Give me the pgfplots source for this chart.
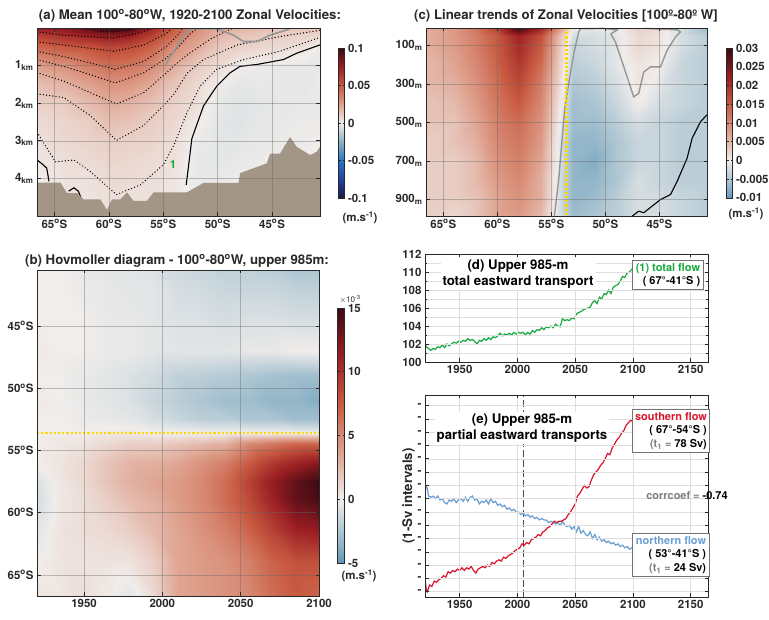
\documentclass[border=0pt]{standalone}
\usepackage{pgfplots}
\pgfplotsset{compat=1.18}
\usepackage{fontspec}
\setmainfont{TeX Gyre Heros}
\definecolor{axcol}{RGB}{40,40,40}
\definecolor{bathy}{RGB}{164,150,134}
\definecolor{gline}{RGB}{150,150,150}
\definecolor{ygold}{RGB}{255,215,0}
\definecolor{cgreen}{RGB}{20,170,60}
\definecolor{cred}{RGB}{215,20,45}
\definecolor{cblue}{RGB}{105,158,210}
\definecolor{tgray}{RGB}{125,125,125}
\newcommand{\tk}{\bfseries\fontsize{11.5}{13}\selectfont}
\newcommand{\ttl}{\bfseries\fontsize{13.3}{15.5}\selectfont}
\newcommand{\lgf}{\bfseries\fontsize{11}{13.5}\selectfont}
\newcommand{\dg}{\textsuperscript{o}}
\pgfplotsset{
  colormap={balance}{rgb255(0cm)=(24,28,67) rgb255(1cm)=(35,65,160) rgb255(2cm)=(40,118,198) rgb255(3cm)=(140,178,198) rgb255(4cm)=(240,237,235) rgb255(5cm)=(222,160,140) rgb255(6cm)=(200,90,65) rgb255(7cm)=(155,30,35) rgb255(8cm)=(60,9,18)},
  colormap={balsub}{rgb255(0cm)=(92,150,182) rgb255(1cm)=(140,178,198) rgb255(4cm)=(240,237,235) rgb255(7cm)=(222,160,140) rgb255(10cm)=(200,90,65) rgb255(13cm)=(155,30,35) rgb255(16cm)=(60,9,18)},
  mat/.style={scale only axis, axis line style={axcol,line width=0.8bp}, every tick/.style={axcol,line width=0.6bp}, major tick length=3.5bp, minor tick length=2bp, tick align=inside, ticklabel style={font=\tk, text=axcol}, axis on top},
  fld/.style={mat, grid=major, grid style={black!60, line width=0.5bp, opacity=0.4}},
  cbar/.style={scale only axis, scaled y ticks=false, axis line style={axcol,line width=0.8bp}, every tick/.style={axcol,line width=0.5bp}, major tick length=2bp, tick align=inside, yticklabel style={font=\tk, text=axcol}},
  dots/.style={black, line width=1.4bp, dash pattern=on 0bp off 3.2bp, line cap=round},
}
\begin{document}
\begin{tikzpicture}
\useasboundingbox (0,0) rectangle (769bp,620bp);
% ---------------- (a)
\begin{axis}[fld, at={(37bp,404bp)}, anchor=south west, width=283bp, height=188bp,
  xmin=-66.6, xmax=-40.6, ymin=0, ymax=5, y dir=reverse,
  xtick={-65,-60,-55,-50,-45}, xticklabels={65\dg S,60\dg S,55\dg S,50\dg S,45\dg S},
  ytick={1,2,3,4}, yticklabels={1\textsubscript{km},2\textsubscript{km},3\textsubscript{km},4\textsubscript{km}},
  colormap name=balance, point meta min=-0.1, point meta max=0.1,
  colorbar, colorbar style={cbar, at={(parent axis.north east)}, anchor=north west, xshift=10bp, yshift=-20bp, width=6bp, height=150bp,
    ytick={-0.1,-0.05,0,0.05,0.1}, yticklabels={-0.1,-0.05,0,0.05,0.1}}]
\addplot[surf, shader=interp, mesh/cols=14, point meta=explicit] table[x=x,y=y,meta=c,row sep=\\]{
x y c\\
-66.6 0 0.075\\ -64 0 0.080\\ -62 0 0.090\\ -60 0 0.100\\ -58 0 0.098\\ -56 0 0.072\\ -54 0 0.050\\ -52 0 0.033\\ -50 0 0.022\\ -48 0 0.018\\ -46 0 0.015\\ -44 0 0.013\\ -42 0 0.012\\ -40.6 0 0.011\\
-66.6 0.25 0.058\\ -64 0.25 0.065\\ -62 0.25 0.070\\ -60 0.25 0.076\\ -58 0.25 0.072\\ -56 0.25 0.058\\ -54 0.25 0.042\\ -52 0.25 0.027\\ -50 0.25 0.017\\ -48 0.25 0.013\\ -46 0.25 0.011\\ -44 0.25 0.009\\ -42 0.25 0.008\\ -40.6 0.25 0.005\\
-66.6 0.5 0.045\\ -64 0.5 0.050\\ -62 0.5 0.052\\ -60 0.5 0.058\\ -58 0.5 0.055\\ -56 0.5 0.047\\ -54 0.5 0.031\\ -52 0.5 0.022\\ -50 0.5 0.012\\ -48 0.5 0.009\\ -46 0.5 0.007\\ -44 0.5 0.006\\ -42 0.5 0.003\\ -40.6 0.5 -0.001\\
-66.6 1 0.025\\ -64 1 0.030\\ -62 1 0.037\\ -60 1 0.042\\ -58 1 0.040\\ -56 1 0.032\\ -54 1 0.021\\ -52 1 0.011\\ -50 1 0.006\\ -48 1 0.000\\ -46 1 -0.001\\ -44 1 -0.002\\ -42 1 -0.002\\ -40.6 1 -0.002\\
-66.6 1.5 0.015\\ -64 1.5 0.019\\ -62 1.5 0.024\\ -60 1.5 0.030\\ -58 1.5 0.028\\ -56 1.5 0.021\\ -54 1.5 0.013\\ -52 1.5 0.007\\ -50 1.5 0.000\\ -48 1.5 -0.003\\ -46 1.5 -0.002\\ -44 1.5 -0.002\\ -42 1.5 -0.003\\ -40.6 1.5 -0.001\\
-66.6 2 0.009\\ -64 2 0.011\\ -62 2 0.016\\ -60 2 0.021\\ -58 2 0.019\\ -56 2 0.014\\ -54 2 0.009\\ -52 2 0.005\\ -50 2 -0.002\\ -48 2 -0.004\\ -46 2 -0.003\\ -44 2 -0.002\\ -42 2 -0.002\\ -40.6 2 -0.002\\
-66.6 2.5 0.006\\ -64 2.5 0.008\\ -62 2.5 0.010\\ -60 2.5 0.015\\ -58 2.5 0.013\\ -56 2.5 0.010\\ -54 2.5 0.007\\ -52 2.5 0.001\\ -50 2.5 -0.003\\ -48 2.5 -0.004\\ -46 2.5 -0.002\\ -44 2.5 -0.002\\ -42 2.5 -0.001\\ -40.6 2.5 -0.001\\
-66.6 3 0.004\\ -64 3 0.007\\ -62 3 0.008\\ -60 3 0.010\\ -58 3 0.009\\ -56 3 0.008\\ -54 3 0.005\\ -52 3 -0.001\\ -50 3 -0.003\\ -48 3 -0.003\\ -46 3 -0.002\\ -44 3 -0.001\\ -42 3 -0.001\\ -40.6 3 0.000\\
-66.6 3.5 0.002\\ -64 3.5 0.005\\ -62 3.5 0.006\\ -60 3.5 0.008\\ -58 3.5 0.007\\ -56 3.5 0.006\\ -54 3.5 0.004\\ -52 3.5 -0.002\\ -50 3.5 -0.003\\ -48 3.5 -0.002\\ -46 3.5 -0.001\\ -44 3.5 -0.001\\ -42 3.5 0.000\\ -40.6 3.5 0.000\\
-66.6 4 0.000\\ -64 4 0.004\\ -62 4 0.004\\ -60 4 0.006\\ -58 4 0.006\\ -56 4 0.005\\ -54 4 0.003\\ -52 4 -0.002\\ -50 4 -0.002\\ -48 4 -0.001\\ -46 4 -0.001\\ -44 4 0.000\\ -42 4 0.000\\ -40.6 4 0.000\\
-66.6 4.5 -0.001\\ -64 4.5 0.003\\ -62 4.5 0.003\\ -60 4.5 0.005\\ -58 4.5 0.004\\ -56 4.5 0.004\\ -54 4.5 0.002\\ -52 4.5 -0.001\\ -50 4.5 -0.001\\ -48 4.5 0.000\\ -46 4.5 0.000\\ -44 4.5 0.000\\ -42 4.5 0.000\\ -40.6 4.5 0.000\\
-66.6 5 0.000\\ -64 5 0.002\\ -62 5 0.002\\ -60 5 0.004\\ -58 5 0.003\\ -56 5 0.003\\ -54 5 0.001\\ -52 5 0.000\\ -50 5 0.000\\ -48 5 0.000\\ -46 5 0.000\\ -44 5 0.000\\ -42 5 0.000\\ -40.6 5 0.000\\
};
% dotted contours
\addplot[dots] coordinates {(-66.6,2.77) (-64.9,3.56) (-63.2,3.51) (-61.7,3.82) (-59.3,4.43) (-57.1,4.17) (-55.0,3.64) (-54.0,3.1) (-52.8,2.24) (-51.6,1.54) (-50.1,1.1) (-47.6,0.84) (-44.3,0.62) (-40.6,0.25)};
\addplot[dots] coordinates {(-66.6,1.75) (-64.15,1.85) (-61.7,2.33) (-59.3,2.99) (-56.8,2.59) (-54.7,1.98) (-54.0,1.75) (-52.8,1.2) (-51.3,0.84) (-48.2,0.45) (-44.3,0.23) (-40.6,0.06)};
\addplot[dots] coordinates {(-66.6,1.19) (-64.15,1.41) (-61.7,1.72) (-59.3,2.02) (-56.8,1.72) (-54.7,1.19) (-53.8,0.95) (-52.5,0.65) (-50.7,0.3) (-49.2,0.08) (-48.5,0.0)};
\addplot[dots] coordinates {(-66.6,0.84) (-64.15,1.02) (-61.7,1.24) (-59.4,1.46) (-56.8,1.19) (-54.7,0.8) (-53.6,0.5) (-52.5,0.14) (-51.8,0.0)};
\addplot[dots] coordinates {(-66.6,0.62) (-64.15,0.76) (-61.7,0.93) (-59.4,1.1) (-56.8,0.89) (-54.7,0.49) (-53.7,0.2) (-53.2,0.0)};
\addplot[dots] coordinates {(-66.6,0.37) (-64.15,0.45) (-61.7,0.54) (-59.5,0.62) (-56.8,0.45) (-54.7,0.14) (-54.2,0.0)};
\addplot[dots] coordinates {(-66.6,0.1) (-64.15,0.19) (-61.7,0.23) (-59.6,0.27) (-57.3,0.14) (-55.9,0.0)};
\addplot[dots] coordinates {(-62.5,0) (-61,0.08) (-59.6,0.1) (-58.5,0.06) (-57.5,0)};
% zero contours
\addplot[black, line width=1.1bp] coordinates {(-52.89,4.17) (-52.37,2.94) (-51.3,2.07) (-50.07,1.54) (-48.85,1.19) (-47.94,1.02) (-46.4,0.97) (-43.96,0.84) (-42.74,0.67) (-40.6,0.45)};
\addplot[black, line width=1.1bp] coordinates {(-66.6,3.51) (-66.1,3.62) (-65.7,3.73) (-65.5,4.08)};
\addplot[black, line width=1.1bp] coordinates {(-63.7,4.34) (-63.2,4.25) (-62.8,4.34) (-62.5,4.56)};
\addplot[gline, line width=1.6bp] coordinates {(-54.75,0.97) (-54.36,0.76) (-52.83,0.1) (-52.3,0.02) (-50.07,0.02) (-48.55,0.19) (-47.63,0.36) (-46.4,0.36) (-45.2,0.19) (-43.96,0.08) (-43.4,0.02)};
% bathymetry
\addplot[fill=bathy, draw=none] coordinates {(-66.6,4.11) (-64.45,4.11) (-63.84,4.39) (-62.92,4.39) (-62.31,4.56) (-60.78,4.56) (-60.17,4.84) (-59.71,4.56) (-58.95,4.56) (-58.33,4.37) (-57.73,4.6) (-56.5,4.6) (-55.89,4.37) (-52.83,4.37) (-51.3,4.12) (-48.09,4.12) (-47.94,3.86) (-45.49,3.6) (-45.18,3.34) (-44.27,3.34) (-43.35,2.9) (-42.74,3.16) (-41.5,3.38) (-40.9,3.29) (-40.6,3.16) (-40.6,5) (-66.6,5)} -- cycle;
\node[text=cgreen, font=\tk] at (axis cs:-54.1,3.64) {1};
\end{axis}
% ---------------- (c)
\begin{axis}[fld, at={(426bp,404bp)}, anchor=south west, width=281bp, height=188bp,
  xmin=-66.6, xmax=-40.6, ymin=10, ymax=985, y dir=reverse,
  xtick={-65,-60,-55,-50,-45}, xticklabels={65\dg S,60\dg S,55\dg S,50\dg S,45\dg S},
  ytick={100,300,500,700,900}, yticklabels={100\textsubscript{m},300\textsubscript{m},500\textsubscript{m},700\textsubscript{m},900\textsubscript{m}},
  colormap name=balsub, point meta min=-0.01, point meta max=0.03,
  colorbar, colorbar style={cbar, at={(parent axis.north east)}, anchor=north west, xshift=11bp, yshift=-20bp, width=6bp, height=150bp,
    ytick={-0.01,-0.005,0,0.005,0.01,0.015,0.02,0.025,0.03}, yticklabels={\raisebox{2bp}{-0.01},-0.005,0,0.005,0.01,0.015,0.02,0.025,0.03}}]
\addplot[surf, shader=interp, mesh/cols=14, point meta=explicit] table[x=x,y=y,meta=c,row sep=\\]{
x y c\\
-66.6 10 0.006\\ -64 10 0.008\\ -62 10 0.012\\ -60 10 0.018\\ -58 10 0.030\\ -56 10 0.022\\ -54.5 10 0.010\\ -53 10 0.000\\ -51 10 -0.001\\ -49 10 0.000\\ -47 10 0.003\\ -45 10 0.002\\ -43 10 -0.002\\ -40.6 10 -0.006\\
-66.6 50 0.006\\ -64 50 0.008\\ -62 50 0.011\\ -60 50 0.015\\ -58 50 0.022\\ -56 50 0.016\\ -54.5 50 0.006\\ -53 50 -0.002\\ -51 50 -0.002\\ -49 50 -0.001\\ -47 50 0.002\\ -45 50 0.001\\ -43 50 -0.002\\ -40.6 50 -0.004\\
-66.6 100 0.006\\ -64 100 0.008\\ -62 100 0.011\\ -60 100 0.015\\ -58 100 0.021\\ -56 100 0.015\\ -54.5 100 0.005\\ -53 100 -0.003\\ -51 100 -0.002\\ -49 100 -0.001\\ -47 100 0.002\\ -45 100 0.001\\ -43 100 -0.002\\ -40.6 100 -0.004\\
-66.6 200 0.005\\ -64 200 0.007\\ -62 200 0.010\\ -60 200 0.014\\ -58 200 0.019\\ -56 200 0.013\\ -54.5 200 0.004\\ -53 200 -0.004\\ -51 200 -0.003\\ -49 200 -0.001\\ -47 200 0.001\\ -45 200 0.000\\ -43 200 -0.003\\ -40.6 200 -0.004\\
-66.6 300 0.005\\ -64 300 0.006\\ -62 300 0.009\\ -60 300 0.013\\ -58 300 0.017\\ -56 300 0.011\\ -54.5 300 0.003\\ -53 300 -0.005\\ -51 300 -0.004\\ -49 300 -0.002\\ -47 300 0.001\\ -45 300 -0.001\\ -43 300 -0.003\\ -40.6 300 -0.004\\
-66.6 400 0.004\\ -64 400 0.005\\ -62 400 0.008\\ -60 400 0.012\\ -58 400 0.015\\ -56 400 0.010\\ -54.5 400 0.002\\ -53 400 -0.006\\ -51 400 -0.005\\ -49 400 -0.003\\ -47 400 0.000\\ -45 400 -0.002\\ -43 400 -0.003\\ -40.6 400 -0.004\\
-66.6 500 0.004\\ -64 500 0.004\\ -62 500 0.007\\ -60 500 0.011\\ -58 500 0.013\\ -56 500 0.009\\ -54.5 500 0.001\\ -53 500 -0.006\\ -51 500 -0.006\\ -49 500 -0.004\\ -47 500 -0.002\\ -45 500 -0.003\\ -43 500 -0.004\\ -40.6 500 -0.004\\
-66.6 600 0.003\\ -64 600 0.004\\ -62 600 0.006\\ -60 600 0.010\\ -58 600 0.012\\ -56 600 0.008\\ -54.5 600 0.000\\ -53 600 -0.007\\ -51 600 -0.007\\ -49 600 -0.005\\ -47 600 -0.003\\ -45 600 -0.003\\ -43 600 -0.004\\ -40.6 600 -0.004\\
-66.6 700 0.003\\ -64 700 0.003\\ -62 700 0.005\\ -60 700 0.009\\ -58 700 0.011\\ -56 700 0.007\\ -54.5 700 0.000\\ -53 700 -0.007\\ -51 700 -0.008\\ -49 700 -0.005\\ -47 700 -0.003\\ -45 700 -0.003\\ -43 700 -0.004\\ -40.6 700 -0.004\\
-66.6 800 0.003\\ -64 800 0.003\\ -62 800 0.005\\ -60 800 0.008\\ -58 800 0.010\\ -56 800 0.006\\ -54.5 800 -0.001\\ -53 800 -0.007\\ -51 800 -0.007\\ -49 800 -0.005\\ -47 800 -0.002\\ -45 800 -0.003\\ -43 800 -0.004\\ -40.6 800 -0.004\\
-66.6 900 0.003\\ -64 900 0.003\\ -62 900 0.004\\ -60 900 0.007\\ -58 900 0.009\\ -56 900 0.006\\ -54.5 900 -0.001\\ -53 900 -0.007\\ -51 900 -0.006\\ -49 900 -0.004\\ -47 900 -0.002\\ -45 900 -0.002\\ -43 900 -0.003\\ -40.6 900 -0.004\\
-66.6 985 0.003\\ -64 985 0.002\\ -62 985 0.004\\ -60 985 0.007\\ -58 985 0.008\\ -56 985 0.005\\ -54.5 985 -0.001\\ -53 985 -0.006\\ -51 985 -0.005\\ -49 985 -0.004\\ -47 985 -0.002\\ -45 985 -0.002\\ -43 985 -0.003\\ -40.6 985 -0.004\\
};
\addplot[gline, line width=1.4bp] coordinates {(-54.72,985) (-54.32,797) (-54.01,590) (-53.77,435) (-53.4,298) (-52.93,143) (-52.47,31) (-52.3,14) (-50.2,12) (-48.9,20) (-49.5,40) (-49.07,83) (-48.45,186) (-47.84,289) (-47.38,367) (-46.92,349) (-46.45,238) (-45.83,212) (-44.91,212) (-44.29,126) (-43.52,57) (-43.06,31) (-43.3,20) (-46.3,12)};
\addplot[black, line width=1.1bp] coordinates {(-47.53,986) (-46.92,960) (-46.45,968) (-44.91,900) (-44.6,891) (-43.98,874) (-43.36,805) (-42.44,685) (-41.97,581) (-41.2,496) (-40.6,460)};
\addplot[ygold, line width=2.2bp, dash pattern=on 2.2bp off 2bp] coordinates {(-53.6,10) (-53.6,985)};
\end{axis}
% ---------------- (b)
\begin{axis}[fld, at={(37bp,24bp)}, anchor=south west, width=282bp, height=326bp,
  xmin=1920, xmax=2100, ymin=-66.7, ymax=-40.5,
  xtick={1950,2000,2050,2100}, xticklabels={1950,2000,2050,2100},
  ytick={-65,-60,-55,-50,-45}, yticklabels={65\dg S,60\dg S,55\dg S,50\dg S,45\dg S},
  colormap name=balsub, point meta min=-5, point meta max=15,
  colorbar, colorbar style={cbar, at={(parent axis.north east)}, anchor=north west, xshift=10bp, yshift=-38bp, width=7bp, height=255bp,
    ytick={-5,0,5,10,15}, yticklabels={-5,0,5,10,15}}]
\addplot[surf, shader=interp, mesh/cols=13, point meta=explicit] table[x=x,y=y,meta=c,row sep=\\]{
x y c\\
1920 -66.7 0.5\\ 1935 -66.7 0.3\\ 1950 -66.7 0.8\\ 1965 -66.7 0.2\\ 1980 -66.7 -0.5\\ 1995 -66.7 1.0\\ 2010 -66.7 3.5\\ 2025 -66.7 4.0\\ 2040 -66.7 4.5\\ 2055 -66.7 5.0\\ 2070 -66.7 6.5\\ 2085 -66.7 7.5\\ 2100 -66.7 7.0\\
1920 -64 0.0\\ 1935 -64 0.5\\ 1950 -64 0.5\\ 1965 -64 0.5\\ 1980 -64 0.5\\ 1995 -64 1.5\\ 2010 -64 3.5\\ 2025 -64 4.0\\ 2040 -64 4.5\\ 2055 -64 5.5\\ 2070 -64 7.0\\ 2085 -64 8.0\\ 2100 -64 8.0\\
1920 -61.5 -0.5\\ 1935 -61.5 0.5\\ 1950 -61.5 0.8\\ 1965 -61.5 1.0\\ 1980 -61.5 1.5\\ 1995 -61.5 2.5\\ 2010 -61.5 3.5\\ 2025 -61.5 4.5\\ 2040 -61.5 5.5\\ 2055 -61.5 7.0\\ 2070 -61.5 9.0\\ 2085 -61.5 11.0\\ 2100 -61.5 11.5\\
1920 -59 -1.0\\ 1935 -59 0.3\\ 1950 -59 0.8\\ 1965 -59 1.5\\ 1980 -59 2.5\\ 1995 -59 3.0\\ 2010 -59 4.0\\ 2025 -59 5.0\\ 2040 -59 6.5\\ 2055 -59 8.5\\ 2070 -59 11.0\\ 2085 -59 13.5\\ 2100 -59 14.5\\
1920 -57.5 -0.8\\ 1935 -57.5 0.3\\ 1950 -57.5 1.0\\ 1965 -57.5 2.0\\ 1980 -57.5 3.0\\ 1995 -57.5 3.5\\ 2010 -57.5 4.0\\ 2025 -57.5 5.0\\ 2040 -57.5 6.5\\ 2055 -57.5 9.0\\ 2070 -57.5 11.5\\ 2085 -57.5 13.5\\ 2100 -57.5 15.0\\
1920 -56 0.0\\ 1935 -56 0.5\\ 1950 -56 1.0\\ 1965 -56 2.0\\ 1980 -56 2.8\\ 1995 -56 3.0\\ 2010 -56 3.5\\ 2025 -56 4.5\\ 2040 -56 5.5\\ 2055 -56 7.5\\ 2070 -56 9.5\\ 2085 -56 11.0\\ 2100 -56 12.0\\
1920 -54.5 0.0\\ 1935 -54.5 0.3\\ 1950 -54.5 0.5\\ 1965 -54.5 1.0\\ 1980 -54.5 1.5\\ 1995 -54.5 1.5\\ 2010 -54.5 2.0\\ 2025 -54.5 2.5\\ 2040 -54.5 3.0\\ 2055 -54.5 5.0\\ 2070 -54.5 6.0\\ 2085 -54.5 7.0\\ 2100 -54.5 7.0\\
1920 -53.6 0.0\\ 1935 -53.6 0.0\\ 1950 -53.6 0.0\\ 1965 -53.6 0.2\\ 1980 -53.6 0.3\\ 1995 -53.6 0.0\\ 2010 -53.6 0.0\\ 2025 -53.6 0.0\\ 2040 -53.6 0.0\\ 2055 -53.6 0.0\\ 2070 -53.6 0.0\\ 2085 -53.6 0.0\\ 2100 -53.6 0.0\\
1920 -52.5 0.0\\ 1935 -52.5 0.0\\ 1950 -52.5 -0.2\\ 1965 -52.5 -0.3\\ 1980 -52.5 -0.5\\ 1995 -52.5 -1.0\\ 2010 -52.5 -1.5\\ 2025 -52.5 -2.0\\ 2040 -52.5 -2.0\\ 2055 -52.5 -2.5\\ 2070 -52.5 -2.5\\ 2085 -52.5 -3.0\\ 2100 -52.5 -3.0\\
1920 -51 0.2\\ 1935 -51 0.0\\ 1950 -51 -0.3\\ 1965 -51 -0.5\\ 1980 -51 -0.8\\ 1995 -51 -1.5\\ 2010 -51 -2.0\\ 2025 -51 -2.5\\ 2040 -51 -3.0\\ 2055 -51 -3.0\\ 2070 -51 -3.5\\ 2085 -51 -3.5\\ 2100 -51 -4.0\\
1920 -49 0.0\\ 1935 -49 0.0\\ 1950 -49 -0.3\\ 1965 -49 -0.5\\ 1980 -49 -0.8\\ 1995 -49 -1.2\\ 2010 -49 -1.8\\ 2025 -49 -2.0\\ 2040 -49 -2.2\\ 2055 -49 -2.5\\ 2070 -49 -2.8\\ 2085 -49 -3.0\\ 2100 -49 -3.0\\
1920 -47 0.2\\ 1935 -47 0.0\\ 1950 -47 0.0\\ 1965 -47 -0.2\\ 1980 -47 -0.2\\ 1995 -47 -0.5\\ 2010 -47 -0.5\\ 2025 -47 -0.5\\ 2040 -47 -0.5\\ 2055 -47 -0.3\\ 2070 -47 -0.3\\ 2085 -47 0.0\\ 2100 -47 0.0\\
1920 -44.5 0.0\\ 1935 -44.5 0.0\\ 1950 -44.5 0.0\\ 1965 -44.5 -0.3\\ 1980 -44.5 -0.3\\ 1995 -44.5 -0.5\\ 2010 -44.5 -0.8\\ 2025 -44.5 -0.8\\ 2040 -44.5 -1.0\\ 2055 -44.5 -0.8\\ 2070 -44.5 -0.8\\ 2085 -44.5 -1.0\\ 2100 -44.5 -1.0\\
1920 -42 0.0\\ 1935 -42 0.0\\ 1950 -42 -0.2\\ 1965 -42 -0.3\\ 1980 -42 -0.5\\ 1995 -42 -0.5\\ 2010 -42 -1.0\\ 2025 -42 -1.2\\ 2040 -42 -1.5\\ 2055 -42 -1.5\\ 2070 -42 -1.5\\ 2085 -42 -1.8\\ 2100 -42 -1.8\\
1920 -40.5 0.0\\ 1935 -40.5 0.0\\ 1950 -40.5 -0.3\\ 1965 -40.5 -0.5\\ 1980 -40.5 -0.5\\ 1995 -40.5 -0.8\\ 2010 -40.5 -1.2\\ 2025 -40.5 -1.5\\ 2040 -40.5 -1.8\\ 2055 -40.5 -1.8\\ 2070 -40.5 -2.0\\ 2085 -40.5 -2.5\\ 2100 -40.5 -2.5\\
};
\addplot[ygold, line width=2.2bp, dash pattern=on 2.2bp off 2bp] coordinates {(1920,-53.6) (2100,-53.6)};
\end{axis}
% ---------------- (d)
\begin{axis}[mat, at={(425bp,258bp)}, anchor=south west, width=283bp, height=108bp,
  xmin=1920, xmax=2165, ymin=100, ymax=112,
  xtick={1950,2000,2050,2100,2150}, xticklabels={1950,2000,2050,2100,2150},
  ytick={100,102,104,106,108,110,112}, yticklabels={100,102,104,106,108,110,112},
  minor ytick={101,103,105,107,109,111},
  grid=both, grid style={black!13, line width=0.5bp}, minor grid style={black!13, line width=0.5bp}]
\addplot[cgreen, line width=1.2bp] coordinates {(1920,102.1) (1921,101.7) (1923,101.5) (1925,101.3) (1927,101.5) (1929,101.4) (1931,101.7) (1933,101.6) (1935,101.9) (1937,101.6) (1939,102.0) (1941,101.8) (1943,102.0) (1945,102.2) (1947,102.1) (1949,102.3) (1951,102.2) (1953,102.4) (1955,102.3) (1957,102.6) (1959,102.4) (1961,102.5) (1963,102.3) (1965,102.0) (1967,102.4) (1969,102.3) (1971,102.6) (1973,102.4) (1975,102.7) (1977,102.5) (1979,102.8) (1981,102.7) (1983,102.9) (1985,103.2) (1987,102.9) (1989,103.1) (1991,103.0) (1993,103.2) (1995,103.0) (1997,103.3) (1999,103.1) (2001,103.3) (2003,103.2) (2005,103.3) (2007,103.0) (2009,103.3) (2011,103.1) (2013,103.5) (2015,103.3) (2017,103.6) (2019,103.5) (2021,103.8) (2023,103.6) (2025,103.9) (2027,103.8) (2029,104.0) (2031,103.8) (2033,104.2) (2035,104.0) (2037,103.9) (2039,104.8) (2041,104.6) (2043,104.7) (2045,104.6) (2047,104.9) (2049,104.8) (2051,105.3) (2053,105.5) (2055,105.6) (2057,105.8) (2059,105.9) (2061,106.0) (2063,106.1) (2065,106.6) (2067,106.8) (2069,106.5) (2071,107.2) (2073,107.0) (2075,107.6) (2077,107.5) (2079,108.0) (2081,107.6) (2083,108.3) (2085,108.5) (2087,108.6) (2089,109.0) (2091,109.5) (2093,109.4) (2095,109.9) (2097,110.0) (2099,110.3) (2100,110.4)};
\end{axis}
% ---------------- (e)
\begin{axis}[mat, at={(425bp,23bp)}, anchor=south west, width=283bp, height=202bp,
  xmin=1920, xmax=2165, ymin=-0.4, ymax=14.8,
  xtick={1950,2000,2050,2100,2150}, xticklabels={1950,2000,2050,2100,2150},
  ytick={0,1,...,14}, yticklabel={-},
  ylabel={(1-Sv intervals)}, ylabel style={font=\ttl, text=axcol, yshift=-4bp},
  grid=both, grid style={black!13, line width=0.5bp}]
\addplot[black!70, line width=1bp, dash pattern=on 7bp off 3bp] coordinates {(2005,-0.4) (2005,14.8)};
\addplot[cblue, line width=1.2bp] coordinates {(1920,7.6) (1921,7.9) (1922,7.8) (1923,7.2) (1925,7.1) (1927,7.2) (1929,7.0) (1931,7.2) (1933,6.9) (1935,7.0) (1937,6.7) (1939,6.6) (1941,6.9) (1943,6.8) (1945,7.0) (1947,6.7) (1949,6.9) (1951,7.0) (1953,6.8) (1955,7.1) (1957,6.8) (1959,7.1) (1961,7.2) (1963,6.9) (1965,7.0) (1967,6.6) (1969,6.8) (1971,6.7) (1973,6.9) (1975,6.6) (1977,7.0) (1979,6.7) (1981,6.8) (1983,6.5) (1985,6.6) (1987,6.4) (1989,6.5) (1991,6.2) (1993,6.3) (1995,6.1) (1997,6.2) (1999,6.0) (2001,6.0) (2003,5.8) (2005,5.9) (2007,5.7) (2009,5.8) (2011,5.6) (2013,5.7) (2015,5.5) (2017,5.6) (2019,5.4) (2021,5.5) (2023,5.4) (2025,5.4) (2027,5.2) (2029,5.3) (2031,5.2) (2033,5.1) (2035,5.2) (2037,5.0) (2039,5.3) (2041,5.0) (2043,4.9) (2045,5.0) (2047,4.7) (2049,4.9) (2051,4.5) (2053,4.9) (2055,4.4) (2057,4.6) (2059,4.3) (2061,4.2) (2063,4.5) (2065,4.0) (2067,4.3) (2069,3.9) (2071,4.1) (2073,3.8) (2075,3.9) (2077,3.7) (2079,3.8) (2081,3.6) (2083,3.7) (2085,3.5) (2087,3.6) (2089,3.4) (2091,3.5) (2093,3.3) (2095,3.4) (2097,3.2) (2099,3.3) (2100,3.2)};
\addplot[cred, line width=1.2bp] coordinates {(1920,1.1) (1921,0.2) (1922,0.0) (1924,0.5) (1926,0.4) (1928,0.8) (1930,0.7) (1932,0.9) (1934,1.0) (1936,1.2) (1938,1.1) (1940,1.5) (1942,1.4) (1944,1.6) (1946,1.5) (1948,1.7) (1950,1.6) (1952,1.8) (1954,1.6) (1956,1.8) (1958,1.7) (1960,1.9) (1962,1.6) (1964,1.4) (1966,1.7) (1968,1.8) (1970,1.9) (1972,1.8) (1974,2.0) (1976,1.9) (1978,2.2) (1980,2.1) (1982,2.3) (1984,2.4) (1986,2.3) (1988,2.6) (1990,2.5) (1992,2.7) (1994,2.8) (1996,2.9) (1998,3.1) (2000,3.2) (2002,3.3) (2004,3.6) (2006,3.5) (2008,3.7) (2010,3.6) (2012,3.9) (2014,4.0) (2016,4.1) (2018,4.3) (2020,4.2) (2022,4.5) (2024,4.6) (2026,4.8) (2028,4.9) (2030,5.1) (2032,5.3) (2034,5.2) (2036,5.3) (2038,5.3) (2040,5.4) (2042,5.5) (2044,5.8) (2046,6.0) (2048,6.3) (2050,6.6) (2052,7.2) (2054,7.4) (2056,7.7) (2058,8.0) (2060,7.8) (2062,7.9) (2064,8.4) (2066,8.8) (2068,9.0) (2070,9.2) (2072,9.5) (2074,9.7) (2076,10.0) (2078,10.4) (2080,10.3) (2082,10.8) (2084,11.1) (2086,11.4) (2088,11.6) (2090,11.9) (2092,12.1) (2094,12.5) (2096,12.7) (2098,12.9) (2100,12.8)};
\end{axis}
% ---------------- texts
\node[font=\ttl, text=axcol] at (190bp,604bp) {(a) Mean 100\dg-80\dg W, 1920-2100 Zonal Velocities:};
\node[font=\ttl, text=axcol] at (566bp,604bp) {(c) Linear trends of Zonal Velocities [100º-80º W]};
\node[font=\ttl, text=axcol] at (177bp,359bp) {(b) Hovmoller diagram - 100\dg-80\dg W, upper 985m:};
\node[font=\tk, text=axcol, anchor=west] at (339bp,402bp) {(m.s\textsuperscript{-1})};
\node[font=\tk, text=axcol, anchor=west] at (725bp,406bp) {(m.s\textsuperscript{-1})};
\node[font=\fontsize{8}{9}\selectfont, text=axcol, anchor=west] at (336bp,321bp) {$\times$10\textsuperscript{-3}};
\node[font=\tk, text=axcol, anchor=west] at (338bp,44bp) {(m.s\textsuperscript{-1})};
\node[font=\ttl, text=black, fill=white, align=center, inner sep=2bp] at (518bp,346bp) {(d) Upper 985-m\\total eastward transport};
\node[font=\lgf, draw=black!55, line width=0.9bp, fill=white, align=left, inner sep=3bp] at (668bp,345bp) {\textcolor{cgreen}{(1) total flow}\\\hspace*{7bp}( 67°-41°S )};
\node[font=\ttl, text=black, fill=white, align=center, inner sep=2bp] at (522bp,192bp) {(e) Upper 985-m\\partial eastward transports};
\node[font=\lgf, draw=black!55, line width=0.9bp, fill=white, align=right, inner sep=3bp] at (671bp,189bp) {\textcolor{cred}{southern flow}\\( 67°-54°S )\\\textcolor{tgray}{(t\textsubscript{1} =} 78 Sv)};
\node[font=\lgf, draw=black!55, line width=0.9bp, fill=white, align=right, inner sep=3bp] at (671bp,65bp) {\textcolor{cblue}{northern flow}\\( 53°-41°S )\\\textcolor{tgray}{(t\textsubscript{1} =} 24 Sv)};
\node[font=\lgf] at (687bp,124bp) {\textcolor{tgray}{corrcoef =} -0.74};
\end{tikzpicture}
\end{document}
